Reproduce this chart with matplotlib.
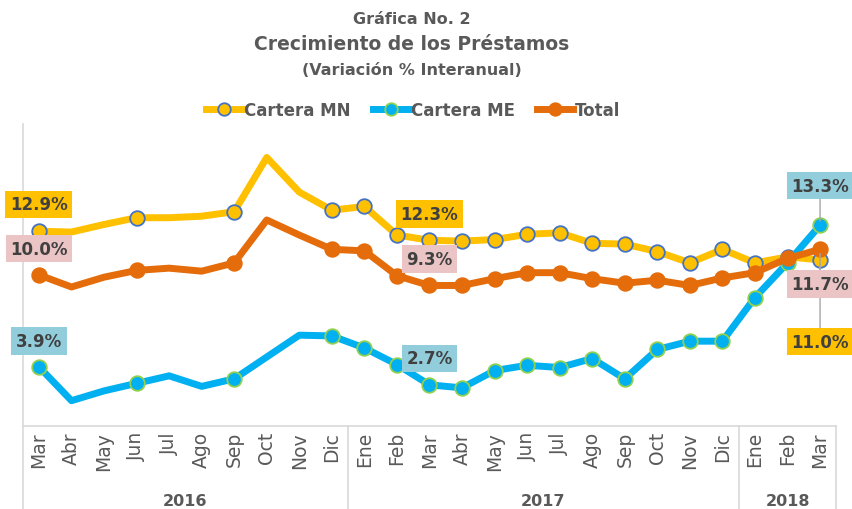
import numpy as np
import matplotlib.pyplot as plt
from matplotlib.lines import Line2D

# datos
meses = ['Mar', 'Abr', 'May', 'Jun', 'Jul', 'Ago', 'Sep', 'Oct', 'Nov', 'Dic',
         'Ene', 'Feb', 'Mar', 'Abr', 'May', 'Jun', 'Jul', 'Ago', 'Sep', 'Oct', 'Nov', 'Dic',
         'Ene', 'Feb', 'Mar']
anios = ['2016', '2017', '2018']
anio_inicio = [0, 10, 22]
anio_fin = [9, 21, 24]

cartera_mn = [12.9, 12.85, 13.35, 13.8, 13.8, 13.9, 14.2, 17.8, 15.5, 14.3,
              14.55, 12.65, 12.3, 12.25, 12.35, 12.7, 12.8, 12.1, 12.05, 11.55, 10.8, 11.7,
              10.8, 11.2, 11.0]
cartera_me = [3.9, 1.65, 2.3, 2.8, 3.3, 2.6, 3.1, 4.55, 6.0, 5.95,
              5.15, 4.05, 2.7, 2.5, 3.65, 4.0, 3.85, 4.45, 3.1, 5.05, 5.6, 5.6,
              8.5, 10.8, 13.3]
total = [10.0, 9.2, 9.85, 10.3, 10.45, 10.25, 10.8, 13.65, 12.65, 11.7,
         11.6, 9.95, 9.3, 9.3, 9.75, 10.15, 10.15, 9.75, 9.45, 9.65, 9.3, 9.8,
         10.15, 11.1, 11.7]

gris = '#595959'
c_mn = '#FFC000'
c_me = '#00B0F0'
c_tot = '#E46C0A'

fig = plt.figure(figsize=(8.52, 5.1), dpi=100)
ax = fig.add_axes([0.0266, 0.1637, 0.955, 0.5905])

x = np.arange(len(meses))
marcas = [0, 3, 6, 9] + list(range(10, 25))

ax.plot(x, cartera_mn, color=c_mn, lw=5, marker='o', ms=10.5, mfc=c_mn, mec='#4472C4',
        mew=1.3, markevery=marcas, solid_joinstyle='round', zorder=3)
ax.plot(x, cartera_me, color=c_me, lw=5, marker='o', ms=10.5, mfc=c_me, mec='#92D050',
        mew=1.3, markevery=marcas, solid_joinstyle='round', zorder=3)
ax.plot(x, total, color=c_tot, lw=5, marker='o', ms=10.5, mfc=c_tot, mec=c_tot,
        mew=1.3, markevery=marcas, solid_joinstyle='round', zorder=4)

ax.set_xlim(-0.5, len(meses) - 0.5)
ax.set_ylim(0, 20)
ax.set_yticks([])
for s in ['top', 'right', 'left']:
    ax.spines[s].set_visible(False)
ax.spines['bottom'].set_color('#D9D9D9')
ax.spines['bottom'].set_linewidth(1.2)

ax.set_xticks(x)
ax.set_xticklabels(meses, rotation=90, fontsize=13.5, color=gris)
ax.tick_params(axis='x', length=0, pad=4)

# separadores de anios
tr = ax.get_xaxis_transform()
ax.plot([-0.5, -0.5], [1.0, -0.3], transform=tr, color='#D9D9D9', lw=1.2, clip_on=False)
for ini in anio_inicio[1:]:
    ax.plot([ini - 0.5, ini - 0.5], [0, -0.3], transform=tr, color='#D9D9D9', lw=1.2, clip_on=False)
ax.plot([len(meses) - 0.5, len(meses) - 0.5], [0, -0.3], transform=tr, color='#D9D9D9', lw=1.2, clip_on=False)
for a, i0, i1 in zip(anios, anio_inicio, anio_fin):
    ax.text((i0 + i1) / 2, -0.25, a, transform=tr, ha='center', va='center',
            fontsize=11.5, fontweight='bold', color=gris)

# etiquetas de datos
def etiqueta(i, v, dy, fondo):
    ax.annotate(f'{v:.1f}%', xy=(i, v), xytext=(0, dy), textcoords='offset points',
                ha='center', va='center', fontsize=12, fontweight='bold', color='#404040',
                bbox=dict(boxstyle='square,pad=0.28', fc=fondo, ec='none'),
                arrowprops=dict(arrowstyle='-', color='#A6A6A6', lw=1, shrinkA=0, shrinkB=3)
                if abs(dy) > 22 else None,
                zorder=6, annotation_clip=False)

rosa = '#EBC5C5'
azul = '#92CDDC'
etiqueta(0, cartera_mn[0], 19.5, c_mn)
etiqueta(0, total[0], 19, rosa)
etiqueta(0, cartera_me[0], 18.5, azul)
etiqueta(12, cartera_mn[12], 19, c_mn)
etiqueta(12, total[12], 19, rosa)
etiqueta(12, cartera_me[12], 19, azul)
etiqueta(24, cartera_mn[24], -59, c_mn)
etiqueta(24, total[24], -25, rosa)
etiqueta(24, cartera_me[24], 28.5, azul)

# titulos
fig.text(0.4836, 1 - 19.5 / 510, 'Gráfica No. 2', ha='center', va='center',
         fontsize=11.5, fontweight='bold', color=gris)
fig.text(0.4836, 1 - 45 / 510, 'Crecimiento de los Préstamos', ha='center', va='center',
         fontsize=13.5, fontweight='bold', color=gris)
fig.text(0.4836, 1 - 71 / 510, '(Variación % Interanual)', ha='center', va='center',
         fontsize=11.5, fontweight='bold', color=gris)

handles = [
    Line2D([], [], color=c_mn, lw=5, marker='o', ms=9, mfc=c_mn, mec='#4472C4', mew=1.3),
    Line2D([], [], color=c_me, lw=5, marker='o', ms=9, mfc=c_me, mec='#92D050', mew=1.3),
    Line2D([], [], color=c_tot, lw=5, marker='o', ms=9, mfc=c_tot, mec=c_tot, mew=1.3),
]
leg = fig.legend(handles, ['Cartera MN', 'Cartera ME', 'Total'], loc='center', ncol=3,
                 bbox_to_anchor=(0.485, 1 - 111 / 510), frameon=False, fontsize=12,
                 handlelength=2.2, handletextpad=0.1, columnspacing=1.3)
for t in leg.get_texts():
    t.set_color(gris)
    t.set_fontweight('bold')

plt.savefig('out.png', dpi=100)
